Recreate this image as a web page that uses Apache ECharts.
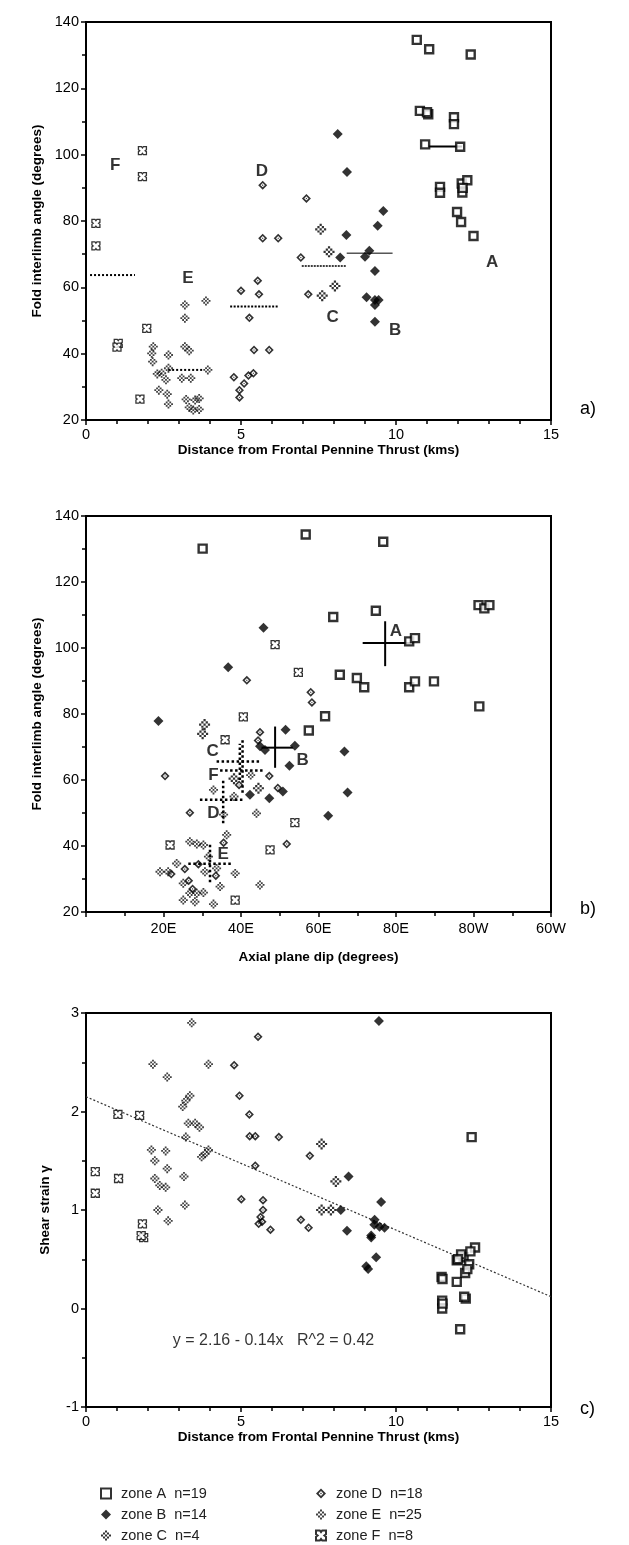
<!DOCTYPE html>
<html><head><meta charset="utf-8">
<script src="https://cdn.jsdelivr.net/npm/echarts@6/dist/echarts.min.js"></script>
<style>html,body{margin:0;padding:0;background:#fff}#c{width:629px;height:1545px}</style>
</head><body><div id="c"></div>
<script>
// ---------- DATA ----------
const zoneNames = ['zone A  n=19','zone B  n=14','zone C  n=4','zone D  n=18','zone E  n=25','zone F  n=8'];
// panel a: [distance km, fold interlimb angle]
const aA = [[10.67,134.6],[11.07,131.8],[12.41,130.2],[10.77,113.2],[11.04,112.2],[11.87,111.3],[11.87,109.2],[10.94,103.1],[12.07,102.4],[11.42,90.3],[11.42,88.5],[12.12,91.3],[12.3,92.3],[12.14,88.6],[11.97,82.7],[12.1,79.7],[12.5,75.5],[11.0,112.8],[12.15,90]];
const aB = [[8.12,106.2],[8.42,94.8],[9.59,83.0],[9.41,78.6],[8.40,75.8],[8.2,69.0],[9.14,71.0],[9.0,69.2],[9.32,64.9],[9.05,57.0],[9.32,56.2],[9.44,56.2],[9.32,54.7],[9.32,49.6]];
const aC = [[7.57,77.5],[7.84,70.7],[8.03,60.4],[7.62,57.5]];
const aD = [[5.70,90.8],[7.11,86.8],[5.70,74.8],[6.2,74.8],[6.93,69.0],[7.17,57.9],[5.0,59.0],[5.54,62.0],[5.58,57.9],[5.27,50.8],[5.42,41.1],[5.91,41.1],[4.77,32.9],[5.24,33.4],[5.40,34.1],[4.95,29.0],[4.95,26.8],[5.1,31.0]];
const aE = [[3.19,54.7],[3.19,50.7],[3.87,55.9],[2.17,42.1],[2.12,40.1],[2.15,37.6],[2.66,39.6],[3.19,42.1],[3.33,40.9],[2.66,35.6],[2.30,33.9],[2.58,32.1],[3.09,32.6],[3.38,32.6],[3.93,35.1],[2.35,29.0],[2.62,27.8],[2.66,24.8],[3.23,26.2],[3.65,26.5],[3.33,23.8],[3.65,23.2],[3.46,23.0],[2.44,34.1],[3.52,26.0]];
const aF = [[1.82,101.2],[1.82,93.4],[0.32,79.3],[0.32,72.5],[1.04,43.1],[1.0,42.0],[1.96,47.6],[1.74,26.3]];
// zone mean lines in panel a: [x1, x2, mean]
const aMeanA = [11.03, 12.13, 102.5];
const aMeanB = [8.41, 9.89, 70.3];
const aMeanC = [6.96, 8.41, 66.4];
const aMeanD = [4.65, 6.19, 54.2];
const aMeanE = [2.65, 3.78, 35.1];
const aMeanF = [0.13, 1.58, 63.7];
const aLetters = [['F',0.94,96.9],['D',5.67,94.9],['E',3.29,62.8],['C',7.96,51.1],['B',9.97,46.9],['A',13.1,67.6]];

// panel b: [axial plane dip (0..90 = E, 90..180 = W as 180-dip), angle]
const bA = [[30.1,130.1],[56.7,134.4],[76.7,132.2],[74.8,111.3],[63.8,109.4],[83.4,102.0],[84.9,103.0],[65.5,91.9],[69.9,90.9],[71.8,88.1],[83.4,88.1],[84.9,89.9],[89.8,89.9],[61.7,79.3],[101.3,113.0],[102.8,112.0],[104.1,113.0],[101.5,82.3],[57.5,75.0]];
const bB = [[18.7,77.9],[45.8,106.1],[36.7,94.2],[44.9,70.2],[51.5,75.2],[53.9,70.4],[52.5,64.3],[66.7,68.6],[67.5,56.2],[62.5,49.2],[50.8,56.5],[47.3,54.5],[42.3,55.5],[46.2,69.1]];
const bC = [[30.6,76.8],[30.1,74.0],[38.2,60.4],[44.5,57.5]];
const bD = [[41.5,90.2],[58.0,86.6],[58.3,83.5],[44.9,74.5],[20.4,61.2],[26.8,50.1],[51.8,40.6],[47.3,61.2],[49.5,57.6],[44.4,72.0],[22.0,31.5],[25.5,33.0],[29.0,34.5],[26.5,29.5],[27.5,27.0],[33.5,31.0],[35.5,41.0],[39.5,58.5]];
const bE = [[26.8,41.3],[28.6,40.6],[30.3,40.3],[19.1,32.2],[21.2,32.2],[23.4,34.7],[31.6,36.8],[30.7,32.2],[33.7,33.2],[38.5,31.7],[25.1,28.7],[26.8,25.7],[28.6,25.7],[30.3,25.9],[25.1,23.6],[28.1,23.1],[32.9,22.4],[34.6,27.7],[44.9,28.2],[44.0,49.9],[36.3,43.4],[32.9,57.0],[38.2,55.0],[35.5,49.5],[42.5,61.5]];
const bF = [[48.8,101.0],[54.8,92.6],[40.6,79.1],[35.9,72.2],[53.9,47.1],[21.7,40.3],[47.5,38.8],[38.5,23.6]];
// zone mean crosses in panel b: [cx, cy, xmin, xmax, ymin, ymax]
const bCrossA = [77.2,101.5,71.4,84.4,94.5,108.1];
const bCrossB = [48.8,69.8,45.3,53.4,63.7,76.2];
const bCrossC = [39.7,65.6,33.7,45.3,60.0,71.0];
const bCrossF = [40.4,62.9,34.6,46.2,56.1,72.2];
const bCrossD = [35.4,54.0,29.4,41.0,46.9,60.0];
const bCrossE = [32.0,34.6,26.4,38.0,29.0,41.0];
const bLetters = [['A',80.0,105.0],['B',55.9,66.1],['C',32.7,68.6],['F',32.9,61.3],['D',32.9,49.9],['E',35.4,37.6]];
const bTickLabels = {0:'',20:'20E',40:'40E',60:'60E',80:'80E',100:'80W',120:'60W'};

// panel c: [distance km, shear strain gamma]
const cA = [[12.55,0.62],[11.96,0.49],[12.18,0.52],[12.36,0.45],[12.23,0.36],[11.47,0.32],[11.96,0.27],[11.49,0.08],[11.49,0.0],[12.25,0.10],[12.07,-0.21],[12.44,1.74],[12.1,0.55],[12.3,0.40],[11.5,0.05],[12.0,0.50],[12.4,0.58],[11.5,0.30],[12.2,0.12]];
const cB = [[9.45,2.92],[8.47,1.34],[9.52,1.08],[9.31,0.90],[9.47,0.83],[9.63,0.82],[9.2,0.72],[8.22,1.0],[8.42,0.79],[9.2,0.74],[9.36,0.52],[9.04,0.43],[9.1,0.40],[9.3,0.85]];
const cC = [[7.6,1.67],[8.06,1.29],[7.6,1.0],[7.9,1.0]];
const cD = [[5.55,2.76],[4.78,2.47],[4.95,2.16],[5.27,1.97],[5.28,1.75],[5.46,1.75],[6.22,1.74],[5.46,1.45],[5.01,1.11],[5.71,1.10],[5.71,1.0],[5.63,0.93],[5.57,0.86],[5.68,0.88],[5.95,0.80],[7.22,1.55],[6.93,0.90],[7.18,0.82]];
const cE = [[3.41,2.90],[2.16,2.48],[2.62,2.35],[3.95,2.48],[3.35,2.16],[3.22,2.11],[3.12,2.05],[3.3,1.88],[3.52,1.88],[3.66,1.84],[3.22,1.74],[3.95,1.61],[3.84,1.57],[3.73,1.54],[2.11,1.61],[2.57,1.60],[2.22,1.50],[2.62,1.42],[2.22,1.32],[2.38,1.25],[2.57,1.23],[3.16,1.34],[3.19,1.05],[2.32,1.0],[2.65,0.89]];
const cF = [[1.03,1.97],[1.73,1.96],[0.30,1.39],[0.30,1.17],[1.05,1.32],[1.82,0.86],[1.86,0.72],[1.78,0.74]];
const cFit = [[0,2.15],[15,0.12]];
const cEquation = ['y = 2.16 - 0.14x   R^2 = 0.42', 6.05, -0.33];

// ---------- STYLE ----------
const FONT = '"Liberation Sans", Arial, Helvetica, sans-serif';
function checker(n, s) {
  const c = (n - 1) / 2; let p = '';
  for (let i = 0; i < n; i++) for (let j = 0; j < n; j++) {
    if (Math.abs(i - c) + Math.abs(j - c) <= c && (i + j) % 2 === 0) {
      const x = i + (1 - s) / 2, y = j + (1 - s) / 2;
      p += 'M' + x + ' ' + y + 'h' + s + 'v' + s + 'h' + (-s) + 'z';
    }
  }
  return 'path://' + p;
}
const SYM = {
  A: {symbol:'rect', symbolSize:8, itemStyle:{color:'#fff', borderColor:'#000', borderWidth:2.4}},
  B: {symbol:'diamond', symbolSize:10, itemStyle:{color:'#000'}},
  C: {symbol:checker(7,1.0), symbolSize:11, itemStyle:{color:'#000'}},
  D: {symbol:'path://M5 0L10 5L5 10L0 5Z M5 2.6L2.6 5L5 7.4L7.4 5Z M5 4.1L5.9 5L5 5.9L4.1 5Z', symbolSize:9, itemStyle:{color:'#000'}},
  E: {symbol:checker(5,1.0), symbolSize:9, itemStyle:{color:'#111'}},
  F: {symbol:'path://M0 0L3.8 0L5 1.6L6.2 0L10 0L10 3.8L8.4 5L10 6.2L10 10L6.2 10L5 8.4L3.8 10L0 10L0 6.2L1.6 5L0 3.8Z', symbolSize:8, itemStyle:{color:'#fff', borderColor:'#000', borderWidth:1.3}}
};
const zoneKeys = ['A','B','C','D','E','F'];
const panels = [[aA,aB,aC,aD,aE,aF],[bA,bB,bC,bD,bE,bF],[cA,cB,cC,cD,cE,cF]];

const grids = [
  {left:86, top:22, width:465, height:398},
  {left:86, top:516, width:465, height:396},
  {left:86, top:1013, width:465, height:394}
].map(g => Object.assign(g, {show:true, borderColor:'#000', borderWidth:2, backgroundColor:'transparent'}));

function axisBase(extra) {
  return Object.assign({
    type:'value', nameLocation:'middle',
    nameTextStyle:{fontFamily:FONT, fontWeight:'bold', fontSize:13.5, color:'#000'},
    axisLine:{show:true, onZero:false, lineStyle:{color:'#000', width:2}},
    axisTick:{show:true, length:5, lineStyle:{color:'#000', width:1.5}},
    splitLine:{show:false}, minorSplitLine:{show:false},
    axisLabel:{color:'#000', fontFamily:FONT, fontSize:14.5, margin:7}
  }, extra);
}
function minor(n) { return {show:true, splitNumber:n, length:4, lineStyle:{color:'#000', width:1.5}}; }
const xAxes = [
  axisBase({gridIndex:0, min:0, max:15, interval:5, minorTick:minor(5), name:'Distance from Frontal Pennine Thrust (kms)', nameGap:23}),
  axisBase({gridIndex:1, min:0, max:120, interval:20, minorTick:minor(2), name:'Axial plane dip (degrees)', nameGap:38,
    axisLabel:{color:'#000', fontFamily:FONT, fontSize:14.5, margin:9, formatter:v => bTickLabels[v] !== undefined ? bTickLabels[v] : ''}}),
  axisBase({gridIndex:2, min:0, max:15, interval:5, minorTick:minor(5), name:'Distance from Frontal Pennine Thrust (kms)', nameGap:23})
];
const yAxes = [
  axisBase({gridIndex:0, min:20, max:140, interval:20, minorTick:minor(2), name:'Fold interlimb angle (degrees)', nameGap:33}),
  axisBase({gridIndex:1, min:20, max:140, interval:20, minorTick:minor(2), name:'Fold interlimb angle (degrees)', nameGap:33}),
  axisBase({gridIndex:2, min:-1, max:3, interval:1, minorTick:minor(2), name:'Shear strain γ', nameGap:34})
];

const series = [];
function seg(p, pts, ls) {
  series.push({type:'line', xAxisIndex:p, yAxisIndex:p, data:pts, symbol:'none', silent:true, z:3,
    lineStyle:Object.assign({color:'#000', width:1.5}, ls)});
}
// panel a mean lines
const meanStyles = {A:{type:'solid',width:2}, B:{type:'solid',width:1}, C:{type:[2,1],width:1.5}, D:{type:[2,1.5],width:2}, E:{type:'dotted',width:2}, F:{type:'dotted',width:2}};
[['A',aMeanA],['B',aMeanB],['C',aMeanC],['D',aMeanD],['E',aMeanE],['F',aMeanF]].forEach(([k,m]) => {
  seg(0, [[m[0],m[2]],[m[1],m[2]]], meanStyles[k]);
});
// panel b crosses
[['A',bCrossA],['B',bCrossB],['C',bCrossC],['F',bCrossF],['D',bCrossD],['E',bCrossE]].forEach(([k,c]) => {
  const st = (k==='A'||k==='B') ? {type:'solid',width:2} : {type:'dotted',width:2.5};
  seg(1, [[c[2],c[1]],[c[3],c[1]]], st);
  seg(1, [[c[0],c[4]],[c[0],c[5]]], st);
});
// panel c regression line
seg(2, cFit, {type:[2,2], width:1.2, color:'#333'});

// scatter points
panels.forEach((zs, p) => {
  zs.forEach((d, i) => {
    const k = zoneKeys[i];
    series.push(Object.assign({type:'scatter', name:zoneNames[i], xAxisIndex:p, yAxisIndex:p, data:d, z:5}, JSON.parse(JSON.stringify(SYM[k]))));
  });
});
// zone letters
function letters(p, arr) {
  series.push({type:'scatter', xAxisIndex:p, yAxisIndex:p, symbolSize:0, silent:true, z:6,
    data:arr.map(a => ({name:a[0], value:[a[1],a[2]]})),
    label:{show:true, position:'inside', formatter:'{b}', fontFamily:FONT, fontWeight:'bold', fontSize:17, color:'#000'}});
}
letters(0, aLetters);
letters(1, bLetters);
series.push({type:'scatter', xAxisIndex:2, yAxisIndex:2, symbolSize:0, silent:true, z:6,
  data:[{name:cEquation[0], value:[cEquation[1], cEquation[2]]}],
  label:{show:true, position:'inside', formatter:'{b}', fontFamily:FONT, fontSize:16, color:'#000'}});

const legendCommon = {orient:'vertical', itemWidth:10, itemHeight:10, itemGap:6, height:64, selectedMode:false,
  textStyle:{fontFamily:FONT, fontSize:14.5, color:'#222', padding:[0,0,0,5]}};
const option = {
  animation:false,
  backgroundColor:'#fff',
  grid:grids, xAxis:xAxes, yAxis:yAxes, series:series,
  legend:[
    Object.assign({left:95, top:1481, data:zoneNames.slice(0,3)}, legendCommon),
    Object.assign({left:310, top:1481, data:zoneNames.slice(3)}, legendCommon)
  ],
  graphic:[
    {type:'text', left:580, top:400, style:{text:'a)', font:'18px ' + FONT, fill:'#000'}},
    {type:'text', left:580, top:900, style:{text:'b)', font:'18px ' + FONT, fill:'#000'}},
    {type:'text', left:580, top:1400, style:{text:'c)', font:'18px ' + FONT, fill:'#000'}}
  ]
};
const chart = echarts.init(document.getElementById('c'), null, {renderer:'canvas'});
chart.setOption(option);
</script></body></html>
